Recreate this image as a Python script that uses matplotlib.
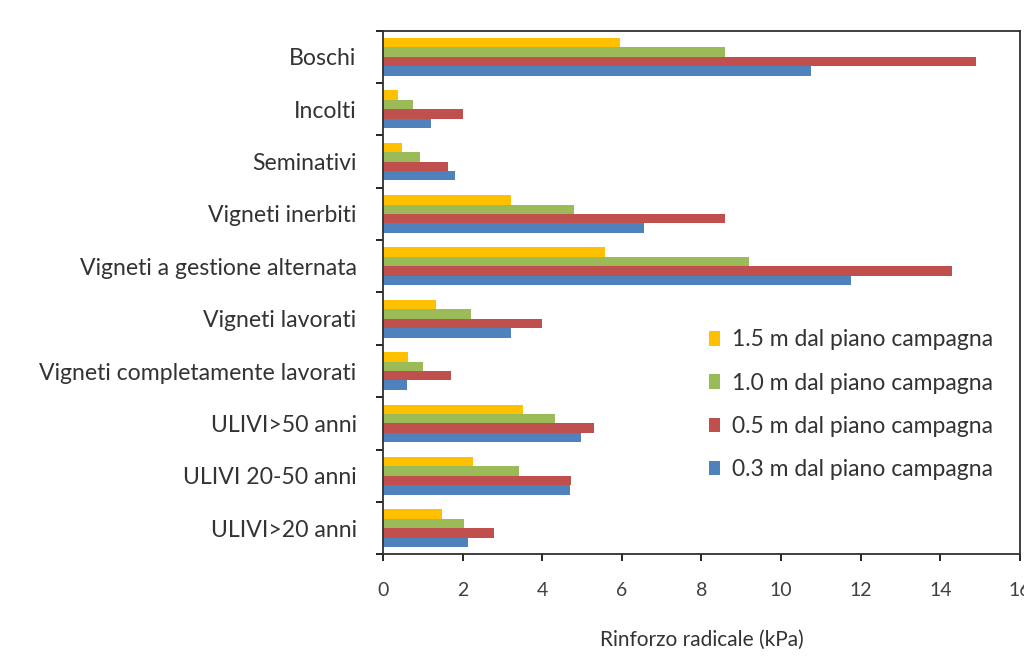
import matplotlib
matplotlib.use("Agg")
import matplotlib.pyplot as plt
import numpy as np

categories = ["Boschi", "Incolti", "Seminativi", "Vigneti inerbiti",
              "Vigneti a gestione alternata", "Vigneti lavorati",
              "Vigneti completamente lavorati", "ULIVI>50 anni",
              "ULIVI 20-50 anni", "ULIVI>20 anni"]
s15 = [5.95, 0.38, 0.47, 3.22, 5.57, 1.33, 0.63, 3.52, 2.25, 1.49]
s10 = [8.6, 0.75, 0.93, 4.81, 9.19, 2.2, 1.0, 4.32, 3.41, 2.03]
s05 = [14.9, 2.0, 1.63, 8.6, 14.29, 4.0, 1.71, 5.31, 4.73, 2.79]
s03 = [10.75, 1.2, 1.82, 6.55, 11.75, 3.22, 0.6, 4.98, 4.70, 2.14]
series_labels = ["1.5 m dal piano campagna", "1.0 m dal piano campagna",
                 "0.5 m dal piano campagna", "0.3 m dal piano campagna"]
colors = ["#FFC000", "#9BBB59", "#C0504D", "#4F81BD"]
xticks = [0, 2, 4, 6, 8, 10, 12, 14, 16]

plt.rcParams['font.family'] = ['Lato', 'DejaVu Sans']

fig = plt.figure(figsize=(10.24, 6.67), dpi=100)
ax = fig.add_axes([0.374, 0.169, 0.622, 0.785])

y = np.arange(len(categories))
h = 0.18
offsets = [-0.27, -0.09, 0.09, 0.27]
for vals, off, col, lab in zip([s15, s10, s05, s03], offsets, colors, series_labels):
    ax.barh(y + off, vals, height=h, color=col, label=lab, edgecolor='none')

ax.set_ylim(len(categories) - 0.5, -0.5)
ax.set_xlim(0, 16)
ax.set_xticks(xticks)
ax.set_xticklabels([str(t) for t in xticks], color="#404040", fontsize=14)
ax.set_yticks(y)
ax.set_yticklabels(categories, fontsize=16.6, color="#333333")
ax.tick_params(axis='y', which='major', length=0, pad=19)
ax.set_yticks(np.arange(-0.5, len(categories), 1), minor=True)
ax.tick_params(axis='y', which='minor', length=5, width=1.2, direction='out')
ax.tick_params(axis='x', length=5, width=1.2, direction='out', pad=15)
for sp in ax.spines.values():
    sp.set_linewidth(1.3)
    sp.set_color("#303030")
ax.set_xlabel("Rinforzo radicale (kPa)", fontsize=15, color="#333333", labelpad=22)

ax.legend(loc='upper left', bbox_to_anchor=(0.497, 0.447), frameon=False,
          fontsize=16.5, handlelength=0.5, handleheight=0.6,
          handletextpad=0.5, labelspacing=0.97, borderaxespad=0,
          labelcolor="#333333")

fig.savefig("out.png", dpi=100)
